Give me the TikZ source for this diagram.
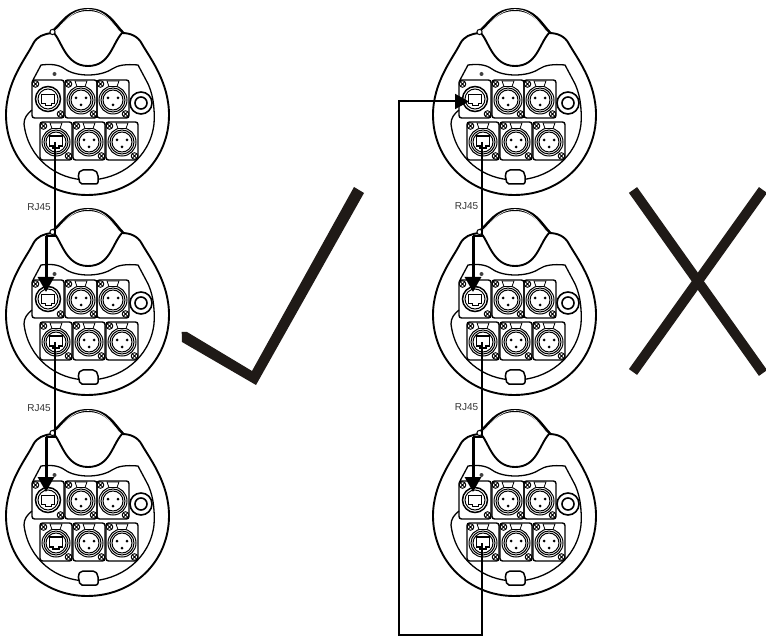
\documentclass[tikz,border=0pt]{standalone}
\usepackage{fontspec}
\setmainfont{Liberation Sans}
\usetikzlibrary{arrows.meta}
\definecolor{ink}{HTML}{1F1A17}
\tikzset{
  outline/.style={draw=black,line width=1.9pt,line join=round},
  thin part/.style={draw=black,line width=0.8pt},
  panel box/.style={draw=black,line width=1.4pt,rounded corners=2.5pt},
  wire/.style={draw=black,line width=2pt,line join=miter},
  feed/.style={draw=black,line width=3pt,-{Triangle[length=15pt,width=16pt]}},
  jacklabel/.style={font=\fontsize{10}{11}\selectfont,text=black!80,inner sep=0pt},
  markstroke/.style={draw=ink,line width=10pt},
  screw/.pic={\draw[draw=black,line width=0.9pt,fill=white] (0,0) circle[radius=3.3];
     \draw[line width=0.8pt] (-2.2,-2.2)--(2.2,2.2) (-2.2,2.2)--(2.2,-2.2);},
  xlr/.pic={
     \draw[panel box] (0,0) rectangle (32,38);
     \draw[line width=1pt] (16,20) circle[radius=14] (16,20) circle[radius=12] (16,20) circle[radius=10];
     \draw[thin part,fill=white] (10,1) -- (22,1) -- (20,6.5) -- (12,6.5) -- cycle;
     \fill (11,18) circle[radius=1.5] (21,18) circle[radius=1.5] (16,25) circle[radius=1.5];
     \pic at (3.5,4) {screw}; \pic at (28.5,34) {screw};
  },
  rjring/.pic={
     \draw[panel box] (0,0) rectangle (32,38);
     \draw[line width=1pt] (16,20) circle[radius=14] (16,20) circle[radius=12] (16,20) circle[radius=10];
     \draw[thin part,fill=white] (10,1) -- (22,1) -- (20,6.5) -- (12,6.5) -- cycle;
     \draw[line width=1.1pt,fill=white] (9.5,14) -- (22.5,14) -- (22.5,24) -- (19,24) -- (19,26) -- (13,26) -- (13,24) -- (9.5,24) -- cycle;
     \pic at (3.5,4) {screw}; \pic at (28.5,34) {screw};
  },
  rjflat/.pic={
     \draw[panel box] (0,0) rectangle (32,38);
     \draw[line width=1.5pt] (16,19) circle[radius=12.5];
     \draw[line width=1pt] (16,19) circle[radius=10];
     \draw[line width=0.9pt] (9.5,14) -- (22.5,14) -- (22.5,23) -- (19,23) -- (19,25) -- (13,25) -- (13,23) -- (9.5,23) -- cycle;
     \pic at (3.5,4) {screw}; \pic at (28.5,34) {screw};
  },
  unit/.pic={
    % body
    \draw[outline] (52,33) .. controls (44,34) and (37,36) .. (33,44)
       .. controls (26,58) and (6,82) .. (6,115)
       .. controls (6,160) and (42,195) .. (87,195)
       .. controls (134,195) and (169,160) .. (169,115)
       .. controls (169,82) and (150,58) .. (142,44)
       .. controls (138,36) and (130,33) .. (122,33);
    % notch
    \draw[outline] (54,33) .. controls (62,42) and (66,66) .. (88,66)
       .. controls (110,66) and (112,44) .. (122,33);
    % handle
    \draw[line width=3pt] (53,31) .. controls (62,24) and (68,9.5) .. (88,9.5)
       .. controls (108,9.5) and (114,24) .. (123,33);
    \draw[white,line width=0.6pt] (55,31) .. controls (64,24) and (70,9.5) .. (88,9.5)
       .. controls (106,9.5) and (112,24) .. (121,33);
    \draw[draw=black,line width=1pt,fill=white] (52.5,32) circle[radius=2.6];
    % panel
    \draw[outline,line width=1.3pt] (33,80) -- (41,65)
       .. controls (50,64) and (58,64) .. (65,69)
       .. controls (76,77) and (100,77) .. (112,69)
       .. controls (118,65) and (126,64) .. (138,65) -- (146,80);
    \draw[outline,line width=1.3pt] (32,110) .. controls (27,114) and (24,118) .. (24,124)
       .. controls (28,158) and (56,180) .. (88,180)
       .. controls (120,180) and (150,158) .. (154,124)
       .. controls (155,108) and (153,92) .. (146,80);
    \fill[black!75] (54.5,74) circle[radius=2];
    % connectors
    \pic at (32,80) {rjflat};
    \pic at (65,80) {xlr};
    \pic at (97,80) {xlr};
    \pic at (40,122) {rjring};
    \pic at (73,122) {xlr};
    \pic at (106,122) {xlr};
    \draw[line width=1.6pt,fill=white] (141,103) circle[radius=11];
    \draw[line width=1.6pt] (141,103) circle[radius=6];
    \draw[line width=1.5pt,rounded corners=2pt,fill=white] (80,184) -- (78,174) -- (81,170) -- (95,170) -- (98,174) -- (98,184) -- cycle;
    \coordinate (-out) at (55,142);
    \coordinate (-bendtop) at (55,36);
    \coordinate (-bend) at (46,37);
  }
}
\begin{document}
\begin{tikzpicture}[x=1pt,y=-1pt]
\useasboundingbox (0,0) rectangle (766,636);
\fill[white] (0,0) rectangle (766,636);
\pic (la) at (0,0) {unit};
\pic (lb) at (0,200) {unit};
\pic (lc) at (0,401) {unit};
\pic (ra) at (427,0) {unit};
\pic (rb) at (427,200) {unit};
\pic (rc) at (427,401) {unit};
% RJ45 labels
\node[jacklabel] (t1) at (39,207) {RJ45};
\node[jacklabel] (t2) at (39,408) {RJ45};
\node[jacklabel] (t3) at (466.5,206) {RJ45};
\node[jacklabel] (t4) at (466.5,407) {RJ45};
% links between units
\coordinate (lbtip) at (lb-bend |- 0,292);
\coordinate (lctip) at (lc-bend |- 0,492);
\coordinate (rbtip) at (rb-bend |- 0,292);
\coordinate (rctip) at (rc-bend |- 0,492);
\draw[wire] (la-out) -- (la-out |- lb-bendtop) -- (lb-bend |- lb-bendtop);
\draw[feed] (lb-bend |- lb-bendtop) -- (lbtip);
\draw[wire] (lb-out) -- (lb-out |- lc-bendtop) -- (lc-bend |- lc-bendtop);
\draw[feed] (lc-bend |- lc-bendtop) -- (lctip);
\draw[wire] (ra-out) -- (ra-out |- rb-bendtop) -- (rb-bend |- rb-bendtop);
\draw[feed] (rb-bend |- rb-bendtop) -- (rbtip);
\draw[wire] (rb-out) -- (rb-out |- rc-bendtop) -- (rc-bend |- rc-bendtop);
\draw[feed] (rc-bend |- rc-bendtop) -- (rctip);
% long return
\coordinate (ret1) at (399,634.5);
\coordinate (ret2) at (399,101.5);
\coordinate (rettip) at (469,101.5);
\draw[wire,-{Triangle[length=14pt,width=15pt]}] (rc-out) -- (rc-out |- ret1) -- (ret1) -- (ret2) -- (rettip);
% check mark and cross
\fill[ink] (181.7,332) -- (187,332) -- (252,371) -- (354,187) -- (364,193) -- (256,385) -- (182,342) -- cycle;
\draw[markstroke] (633,190) -- (763,373);
\draw[markstroke] (763,190) -- (633,372);
\end{tikzpicture}
\end{document}
